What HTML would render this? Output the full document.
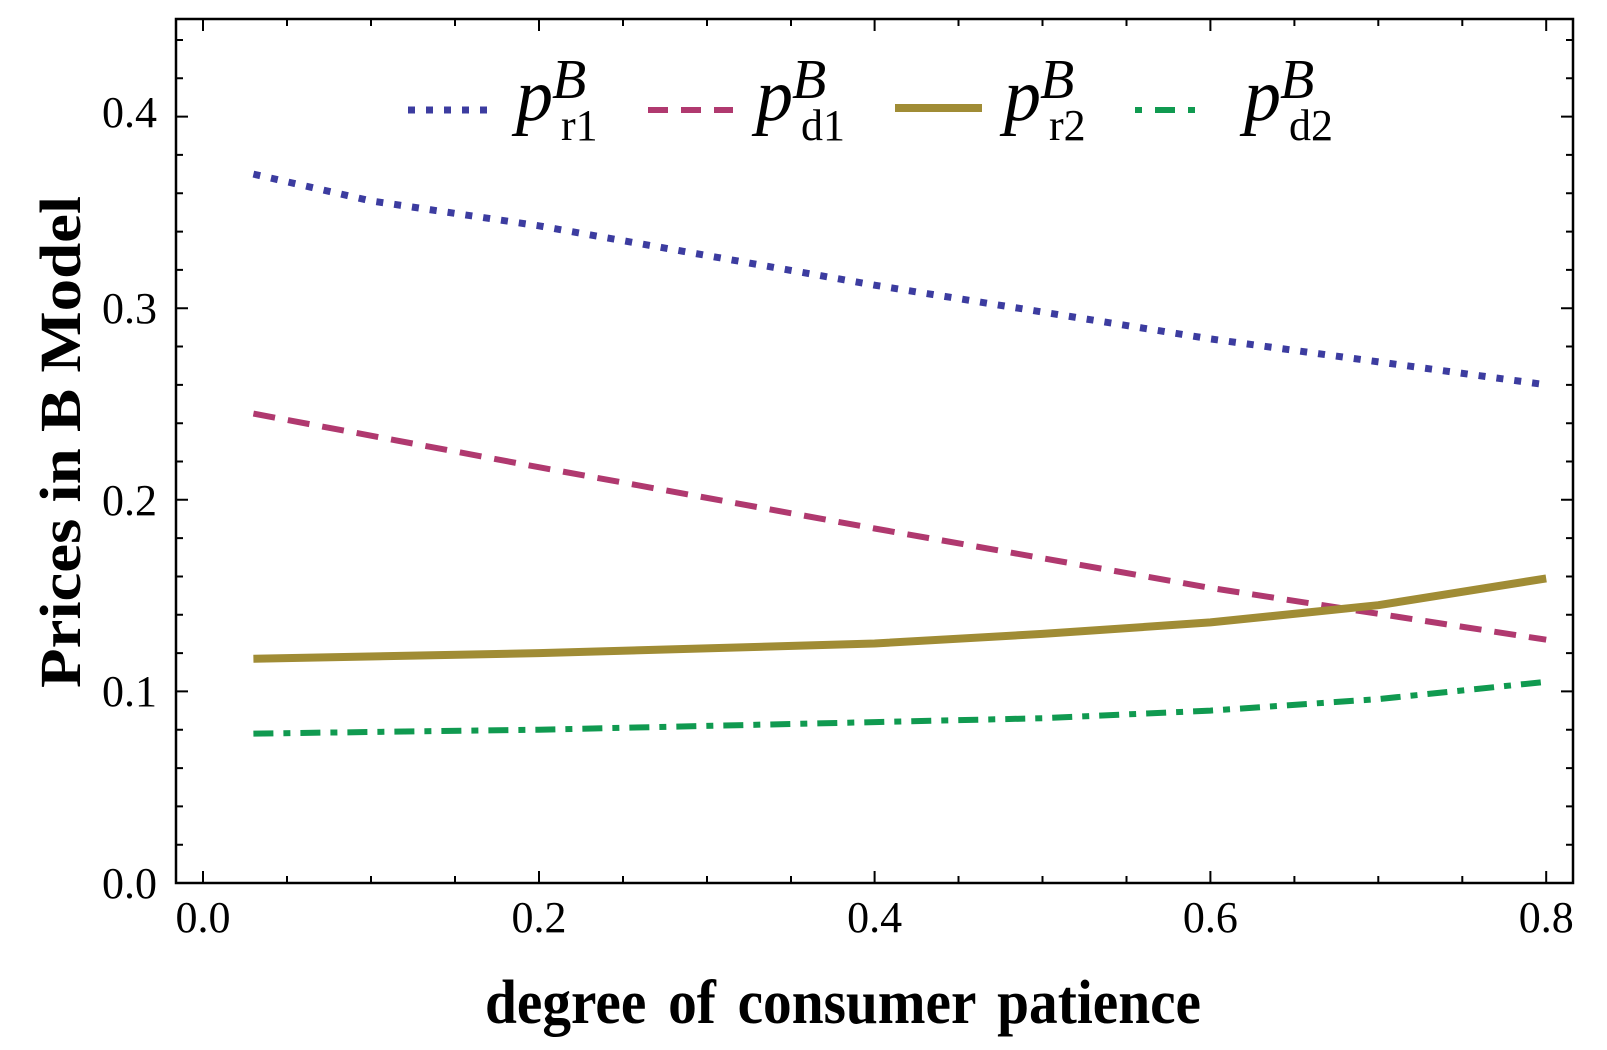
<!DOCTYPE html>
<html><head><meta charset="utf-8"><style>
html,body{margin:0;padding:0;background:#fff;}
svg{display:block;font-family:"Liberation Serif",serif;}
</style></head><body>
<svg width="1607" height="1050" viewBox="0 0 1607 1050" xmlns="http://www.w3.org/2000/svg">
<rect x="176" y="19" width="1397" height="864" fill="none" stroke="#000" stroke-width="2.5"/>
<g stroke="#000" stroke-width="2">
<path d="M203,883v-12M539,883v-12M874.6,883v-12M1210.4,883v-12M1546.2,883v-12"/>
<path d="M203,19v12M539,19v12M874.6,19v12M1210.4,19v12M1546.2,19v12"/>
<path d="M287,883v-7M371,883v-7M455,883v-7M623,883v-7M707,883v-7M791,883v-7M958.5,883v-7M1042.5,883v-7M1126.5,883v-7M1294.4,883v-7M1378.3,883v-7M1462.3,883v-7"/>
<path d="M287,19v7M371,19v7M455,19v7M623,19v7M707,19v7M791,19v7M958.5,19v7M1042.5,19v7M1126.5,19v7M1294.4,19v7M1378.3,19v7M1462.3,19v7"/>
<path d="M176,691.4h12M176,499.8h12M176,308.2h12M176,116.6h12"/>
<path d="M1573,691.4h-12M1573,499.8h-12M1573,308.2h-12M1573,116.6h-12"/>
<path d="M176,844.7h7M176,806.4h7M176,768.1h7M176,729.7h7M176,653.1h7M176,614.8h7M176,576.5h7M176,538.1h7M176,461.5h7M176,423.2h7M176,384.9h7M176,346.5h7M176,269.9h7M176,231.6h7M176,193.3h7M176,154.9h7M176,78.3h7M176,40h7"/>
<path d="M1573,844.7h-7M1573,806.4h-7M1573,768.1h-7M1573,729.7h-7M1573,653.1h-7M1573,614.8h-7M1573,576.5h-7M1573,538.1h-7M1573,461.5h-7M1573,423.2h-7M1573,384.9h-7M1573,346.5h-7M1573,269.9h-7M1573,231.6h-7M1573,193.3h-7M1573,154.9h-7M1573,78.3h-7M1573,40h-7"/>
</g>
<g font-size="44" text-anchor="end">
<text x="157" y="898">0.0</text>
<text x="157" y="706">0.1</text>
<text x="157" y="515">0.2</text>
<text x="157" y="323">0.3</text>
<text x="157" y="127">0.4</text>
</g>
<g font-size="44" text-anchor="middle">
<text x="203" y="932">0.0</text>
<text x="539" y="932">0.2</text>
<text x="874.6" y="932">0.4</text>
<text x="1210.4" y="932">0.6</text>
<text x="1546.2" y="932">0.8</text>
</g>
<text x="485" y="1023" font-size="62" font-weight="bold" textLength="716" lengthAdjust="spacingAndGlyphs" word-spacing="8">degree of consumer patience</text>
<text transform="translate(80,688) rotate(-90)" font-size="58" font-weight="bold" textLength="492" lengthAdjust="spacingAndGlyphs">Prices in B Model</text>
<polyline fill="none" stroke="#3c3ca0" stroke-width="7" stroke-dasharray="7 11" points="253.4,174.1 370.9,200.9 538.8,225.8 874.6,285.2 1210.4,338.9 1546.2,384.8"/>
<polyline fill="none" stroke="#b0396f" stroke-width="6" stroke-dasharray="22 13" points="253.4,413.6 538.8,467.2 874.6,528.5 1210.4,587.9 1546.2,639.7"/>
<polyline fill="none" stroke="#a08c35" stroke-width="8" stroke-linejoin="round" points="253.4,658.8 538.8,653.1 874.6,643.5 1042.5,633.9 1210.4,622.4 1378.3,605.2 1546.2,578.4"/>
<polyline fill="none" stroke="#109a50" stroke-width="6" stroke-dasharray="20 10 7 10" points="253.4,733.6 538.8,729.7 874.6,722.1 1042.5,718.2 1210.4,710.6 1378.3,699.1 1546.2,681.8"/>
<line x1="408" y1="110" x2="487" y2="110" stroke="#3c3ca0" stroke-width="7" stroke-dasharray="7 11"/>
<line x1="648" y1="110" x2="733" y2="110" stroke="#b0396f" stroke-width="6" stroke-dasharray="20 13"/>
<line x1="895" y1="108" x2="982" y2="108" stroke="#a08c35" stroke-width="8"/>
<line x1="1135" y1="110" x2="1201" y2="110" stroke="#109a50" stroke-width="6" stroke-dasharray="7 13 20 13"/>
<g font-style="italic">
<text x="516" y="120" font-size="74">p</text><text x="552" y="98" font-size="56">B</text><text x="561" y="140" font-size="44" font-style="normal">r1</text>
<text x="756" y="120" font-size="74">p</text><text x="792" y="98" font-size="56">B</text><text x="801" y="140" font-size="44" font-style="normal">d1</text>
<text x="1004" y="120" font-size="74">p</text><text x="1040" y="98" font-size="56">B</text><text x="1049" y="140" font-size="44" font-style="normal">r2</text>
<text x="1244" y="120" font-size="74">p</text><text x="1280" y="98" font-size="56">B</text><text x="1289" y="140" font-size="44" font-style="normal">d2</text>
</g>
</svg>
</body></html>
